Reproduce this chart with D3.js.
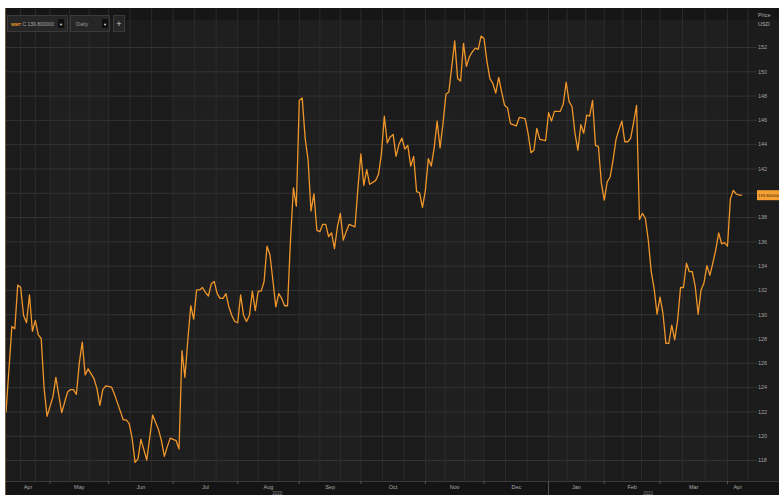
<!DOCTYPE html>
<html>
<head>
<meta charset="utf-8">
<script src="https://cdn.jsdelivr.net/npm/d3@7"></script>
<style>
  body { margin: 0; background: #fff; }
  svg { display: block; font-family: "Liberation Sans", Arial, sans-serif; }
</style>
</head>
<body>
<svg id="chart"></svg>
<script>
// trading day index (0 = 9 Apr 2020) and close price in USD
const days = [0,2,3,4,5,6,7,8,9,10,11,12,13,14,16,17,19,21,22,23,24,25,26,27,28,30,31,32,33,34,36,37,39,40,41,42,43,44,45,46,48,50,52,53,54,55,56,58,59,60,61,62,63,64,65,66,67,68,69,70,71,72,73,74,75,76,77,78,79,80,81,82,83,84,85,86,87,88,89,90,91,92,93,94,95,96,97,98,99,100,101,102,103,104,105,106,107,108,109,110,111,112,113,114,115,116,117,119,120,121,122,123,124,126,127,128,129,130,131,132,133,134,135,136,137,138,139,140,141,142,143,144,145,146,147,148,149,150,151,152,153,154,155,156,157,158,159,160,161,162,163,164,165,166,167,168,169,170,171,172,174,175,177,178,179,180,181,182,184,185,186,187,189,190,191,192,193,194,195,196,197,198,199,200,201,202,203,204,205,206,207,208,209,210,211,212,213,214,215,216,217,218,219,220,221,222,223,224,225,226,227,228,229,230,231,232,233,234,235,236,237,238,239,240,241,242,243,244,245,246,247,248,249,250,251];
const close = [121.9,129.0,128.8,132.4,132.2,129.9,129.3,131.6,128.6,129.5,128.3,128.0,123.9,121.6,123.2,124.8,121.9,123.6,123.8,123.8,123.4,126.0,127.7,125.0,125.5,124.7,123.9,122.5,123.8,124.1,124.0,123.4,122.0,121.3,121.3,121.0,119.8,117.8,118.1,119.7,118.0,121.7,120.5,119.6,118.3,119.1,119.8,119.6,118.9,127.0,124.8,127.9,130.7,129.6,132.0,132.0,132.2,131.8,131.5,132.5,132.7,131.7,131.3,131.3,131.7,130.6,129.9,129.4,129.3,131.6,129.9,129.4,129.9,131.9,130.3,131.9,131.9,132.7,135.6,134.9,132.8,130.6,131.7,131.3,130.7,130.7,136.1,140.4,138.9,147.6,147.8,144.5,142.7,138.5,139.9,136.9,136.8,137.4,137.4,136.4,136.7,135.4,137.2,138.3,136.1,136.8,137.4,137.2,140.4,143.2,140.6,141.9,140.7,141.0,141.5,143.2,146.3,144.1,144.6,144.8,143.0,144.0,144.5,143.6,143.9,142.2,143.0,140.1,140.0,138.8,140.2,142.8,142.2,143.7,145.9,143.7,145.7,148.1,148.3,150.4,152.5,149.4,149.2,152.3,150.4,151.2,151.6,151.9,151.8,152.9,152.7,150.8,149.4,149.0,148.2,149.5,148.3,147.2,147.0,145.7,145.5,146.2,146.1,144.9,143.3,143.5,145.3,144.4,144.3,146.6,145.9,146.7,146.7,147.3,149.1,147.5,147.1,144.9,143.5,145.6,144.9,146.4,146.3,147.6,143.9,143.8,140.8,139.4,140.9,141.3,142.7,144.4,145.2,145.9,144.2,144.2,144.5,145.8,147.2,137.8,138.3,137.9,136.1,133.5,132.1,130.0,131.4,130.1,127.6,127.6,129.1,127.9,129.5,132.2,132.2,134.2,133.5,133.5,132.3,130.0,132.0,132.6,134.0,133.2,134.2,135.3,136.7,135.8,135.9,135.6,139.5,140.2,139.9,139.8,139.8];

// month boundaries in trading days, and their labels
const monthBounds = [0,15,35,57,79,100,121,143,163,185,204,223,246,253];
const monthLabels = ["Apr","May","Jun","Jul","Aug","Sep","Oct","Nov","Dec","Jan","Feb","Mar","Apr"];
const yearBounds = [0,185,253];
const yearLabels = ["2020","2021"];
const priceTicks = d3.range(118, 153, 2);
const lastPrice = "139.800000";

const width = 779, height = 495;
const plot = {left: 6, right: 748, top: 9, bottom: 481};

const svg = d3.select("#chart").attr("width", width).attr("height", height);

const x = d3.scaleLinear().domain([0, 253]).range([plot.left, plot.right]);
const y = d3.scaleLinear().domain([118, 152]).range([460, 47]);

// dark panel
svg.append("rect").attr("x", 5).attr("y", 8).attr("width", width - 5).attr("height", height - 8).attr("fill", "#1c1c1c");

// alternating month bands
svg.append("g").selectAll("rect")
  .data(d3.range(monthLabels.length))
  .join("rect")
    .attr("x", i => x(monthBounds[i]))
    .attr("y", plot.top)
    .attr("width", i => x(monthBounds[i + 1]) - x(monthBounds[i]))
    .attr("height", plot.bottom - plot.top)
    .attr("fill", i => i % 2 ? "#1f1f1f" : "#1b1b1b");

// header strip
svg.append("rect").attr("x", 5).attr("y", 8).attr("width", width - 5).attr("height", 12).attr("fill", "#161616");

// vertical grid: month starts and thirds
const vGrid = [];
monthLabels.forEach((m, i) => {
  const a = monthBounds[i], b = monthBounds[i + 1];
  if (i > 0) vGrid.push(a);
  if (b - a > 10) { vGrid.push(a + (b - a) / 3); vGrid.push(a + 2 * (b - a) / 3); }
});
vGrid.push(253);
svg.append("g").selectAll("line")
  .data(vGrid)
  .join("line")
    .attr("x1", d => x(d)).attr("x2", d => x(d))
    .attr("y1", plot.top).attr("y2", plot.bottom)
    .attr("stroke", "#2c2c2c").attr("stroke-width", 1);

// horizontal grid + right axis (140 sits under the last-price marker)
const yAxis = g => g
  .attr("transform", `translate(757,0)`)
  .call(d3.axisRight(y).tickValues(priceTicks).tickSize(0).tickPadding(1)
    .tickFormat(d => d === 140 ? "" : d))
  .call(g => g.select(".domain").remove())
  .call(g => g.selectAll(".tick text").attr("fill", "#a0a0a0").attr("font-size", 5.5))
  .call(g => g.selectAll(".tick line").clone()
      .attr("x1", plot.left - 757).attr("x2", 0)
      .attr("stroke", "#333").attr("stroke-width", 1));
svg.append("g").call(yAxis);

svg.append("text").attr("x", 758).attr("y", 17).attr("fill", "#b0b0b0").attr("font-size", 5.5).text("Price");
svg.append("text").attr("x", 758).attr("y", 26).attr("fill", "#b0b0b0").attr("font-size", 5.5).text("USD");

// bottom axis strip
svg.append("rect").attr("x", 5).attr("y", plot.bottom).attr("width", width - 5).attr("height", height - plot.bottom).attr("fill", "#141414");
svg.append("line").attr("x1", 5).attr("x2", width).attr("y1", plot.bottom + 0.5).attr("y2", plot.bottom + 0.5).attr("stroke", "#3a3a3a");

svg.append("g").selectAll("line")
  .data(monthBounds.slice(1, -1))
  .join("line")
    .attr("x1", d => x(d)).attr("x2", d => x(d))
    .attr("y1", plot.bottom).attr("y2", d => yearBounds.includes(d) ? height : plot.bottom + 3)
    .attr("stroke", "#555");

svg.append("g").selectAll("text")
  .data(monthLabels)
  .join("text")
    .attr("x", (d, i) => x((monthBounds[i] + monthBounds[i + 1]) / 2))
    .attr("y", 489)
    .attr("text-anchor", "middle")
    .attr("fill", "#a8a8a8").attr("font-size", 5.5)
    .text(d => d);

svg.append("g").selectAll("text")
  .data(yearLabels)
  .join("text")
    .attr("x", (d, i) => x((yearBounds[i] + yearBounds[i + 1]) / 2))
    .attr("y", 494.5)
    .attr("text-anchor", "middle")
    .attr("fill", "#8a8a8a").attr("font-size", 4.5)
    .text(d => d);

// price line
const line = d3.line().x((d, i) => x(days[i])).y(d => y(d));
svg.append("path")
  .datum(close)
  .attr("fill", "none")
  .attr("stroke", "#f0962a")
  .attr("stroke-width", 1.3)
  .attr("stroke-linejoin", "round")
  .attr("d", line);

// last price marker
const ly = y(close[close.length - 1]);
svg.append("rect").attr("x", 757).attr("y", ly - 5).attr("width", 24).attr("height", 10).attr("fill", "#f7a033");
svg.append("text").attr("x", 758).attr("y", ly + 1.7).attr("fill", "#3b2405").attr("font-size", 4.2).text(lastPrice);

// left border
svg.append("line").attr("x1", 5.5).attr("x2", 5.5).attr("y1", 8).attr("y2", height).attr("stroke", "#6b5a45");

// toolbar
const tb = svg.append("g");
tb.append("rect").attr("x", 7.5).attr("y", 15.5).attr("width", 60).attr("height", 16).attr("fill", "#262626").attr("stroke", "#3a3a3a");
tb.append("text").attr("x", 11).attr("y", 25.5).attr("font-size", 4.2).attr("fill", "#f0962a").attr("font-weight", "bold").text("WMT");
tb.append("text").attr("x", 22.5).attr("y", 25.5).attr("font-size", 5).attr("fill", "#aaa").text("C 139.800000");
tb.append("rect").attr("x", 58).attr("y", 19).attr("width", 6).attr("height", 9).attr("fill", "#0e0e0e");
tb.append("text").attr("x", 61).attr("y", 25.5).attr("font-size", 4).attr("text-anchor", "middle").attr("fill", "#ddd").text("▼");
tb.append("rect").attr("x", 70.5).attr("y", 15.5).attr("width", 39).attr("height", 16).attr("fill", "#262626").attr("stroke", "#3a3a3a");
tb.append("text").attr("x", 76).attr("y", 26).attr("font-size", 5.5).attr("fill", "#999").text("Daily");
tb.append("rect").attr("x", 102).attr("y", 19).attr("width", 6).attr("height", 9).attr("fill", "#0e0e0e");
tb.append("text").attr("x", 105).attr("y", 25.5).attr("font-size", 4).attr("text-anchor", "middle").attr("fill", "#ddd").text("▼");
tb.append("rect").attr("x", 113.5).attr("y", 15.5).attr("width", 11).attr("height", 16).attr("fill", "#262626").attr("stroke", "#3a3a3a");
tb.append("text").attr("x", 119).attr("y", 27).attr("font-size", 9).attr("text-anchor", "middle").attr("fill", "#ccc").text("+");
</script>
</body>
</html>
